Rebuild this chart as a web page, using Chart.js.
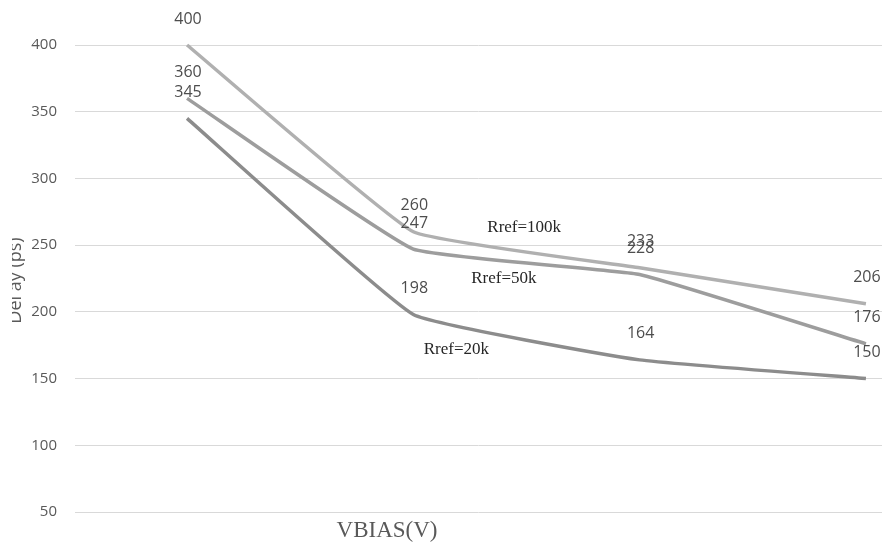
<!DOCTYPE html>
<html>
<head>
<meta charset="utf-8">
<script src="https://cdn.jsdelivr.net/npm/chart.js@4"></script>
<style>
  html, body { margin: 0; padding: 0; background: #ffffff; }
  #wrap { width: 882px; height: 544px; }
</style>
</head>
<body>
<div id="wrap"><canvas id="chart" width="882" height="544"></canvas></div>
<script>
// VBIAS steps (positions along the x axis) and delay per reference resistor
const vbiasSteps = [0, 1, 2, 3];
const rref100k = [400, 260, 233, 206];
const rref50k  = [360, 247, 228, 176];
const rref20k  = [345, 198, 164, 150];
const seriesNames = ['Rref=100k', 'Rref=50k', 'Rref=20k'];
const yTicks = [50, 100, 150, 200, 250, 300, 350, 400];

// where each series name is written, in data units
const nameAnchors = [
  { x: 1.49, y: 263 },
  { x: 1.40, y: 225 },
  { x: 1.19, y: 172 }
];

const toPoints = vals => vbiasSteps.map((x, i) => ({ x: x, y: vals[i] }));

const lineStyle = color => ({
  borderColor: color,
  backgroundColor: color,
  borderWidth: 3.5,
  pointRadius: 0,
  tension: 0.1,
  fill: false,
  clip: false
});

// value labels above each point, series names, and axis titles
const textPlugin = {
  id: 'chartText',
  afterDatasetsDraw(chart) {
    const ctx = chart.ctx;
    const xs = chart.scales.x, ys = chart.scales.y;
    ctx.save();
    ctx.textAlign = 'center';
    ctx.textBaseline = 'middle';
    ctx.fillStyle = '#4d4d4d';
    ctx.font = '16px "Open Sans"';
    chart.data.datasets.forEach((ds, di) => {
      chart.getDatasetMeta(di).data.forEach((pt, i) => {
        ctx.fillText(String(ds.data[i].y), pt.x + 1, pt.y - 26);
      });
    });

    ctx.fillStyle = '#262626';
    ctx.font = '17px "Liberation Serif"';
    seriesNames.forEach((name, i) => {
      const a = nameAnchors[i];
      ctx.fillText(name, xs.getPixelForValue(a.x), ys.getPixelForValue(a.y));
    });

    ctx.fillStyle = '#595959';
    ctx.font = '23px "Liberation Serif"';
    ctx.fillText('VBIAS(V)', 387, 531);

    // rotated y title, trimmed along its left side
    ctx.beginPath();
    ctx.rect(12, 0, 40, 544);
    ctx.clip();
    ctx.translate(21, (chart.chartArea.top + chart.chartArea.bottom) / 2 + 2);
    ctx.rotate(-Math.PI / 2);
    ctx.textBaseline = 'alphabetic';
    ctx.font = '18px "Open Sans"';
    ctx.fillText('Del ay (ps)', 0, 0);
    ctx.restore();
  }
};

new Chart(document.getElementById('chart'), {
  type: 'line',
  data: {
    datasets: [
      Object.assign({ label: seriesNames[0], data: toPoints(rref100k) }, lineStyle('#b0b0b0')),
      Object.assign({ label: seriesNames[1], data: toPoints(rref50k) }, lineStyle('#9d9d9d')),
      Object.assign({ label: seriesNames[2], data: toPoints(rref20k) }, lineStyle('#8c8c8c'))
    ]
  },
  options: {
    responsive: false,
    animation: false,
    layout: { padding: { top: 45, bottom: 32, left: 0, right: 0 } },
    plugins: { legend: { display: false }, tooltip: { enabled: false } },
    scales: {
      x: {
        type: 'linear',
        display: false,
        min: -0.495,
        max: 3.071
      },
      y: {
        min: 50,
        max: 400,
        afterBuildTicks: scale => { scale.ticks = yTicks.map(v => ({ value: v })); },
        afterFit: scale => { scale.width = 75; },
        border: { display: false },
        grid: { color: '#d9d9d9', lineWidth: 1, drawTicks: false },
        ticks: {
          padding: 18,
          color: '#595959',
          font: { family: 'Open Sans', size: 15 }
        }
      }
    }
  },
  plugins: [textPlugin]
});
</script>
</body>
</html>
